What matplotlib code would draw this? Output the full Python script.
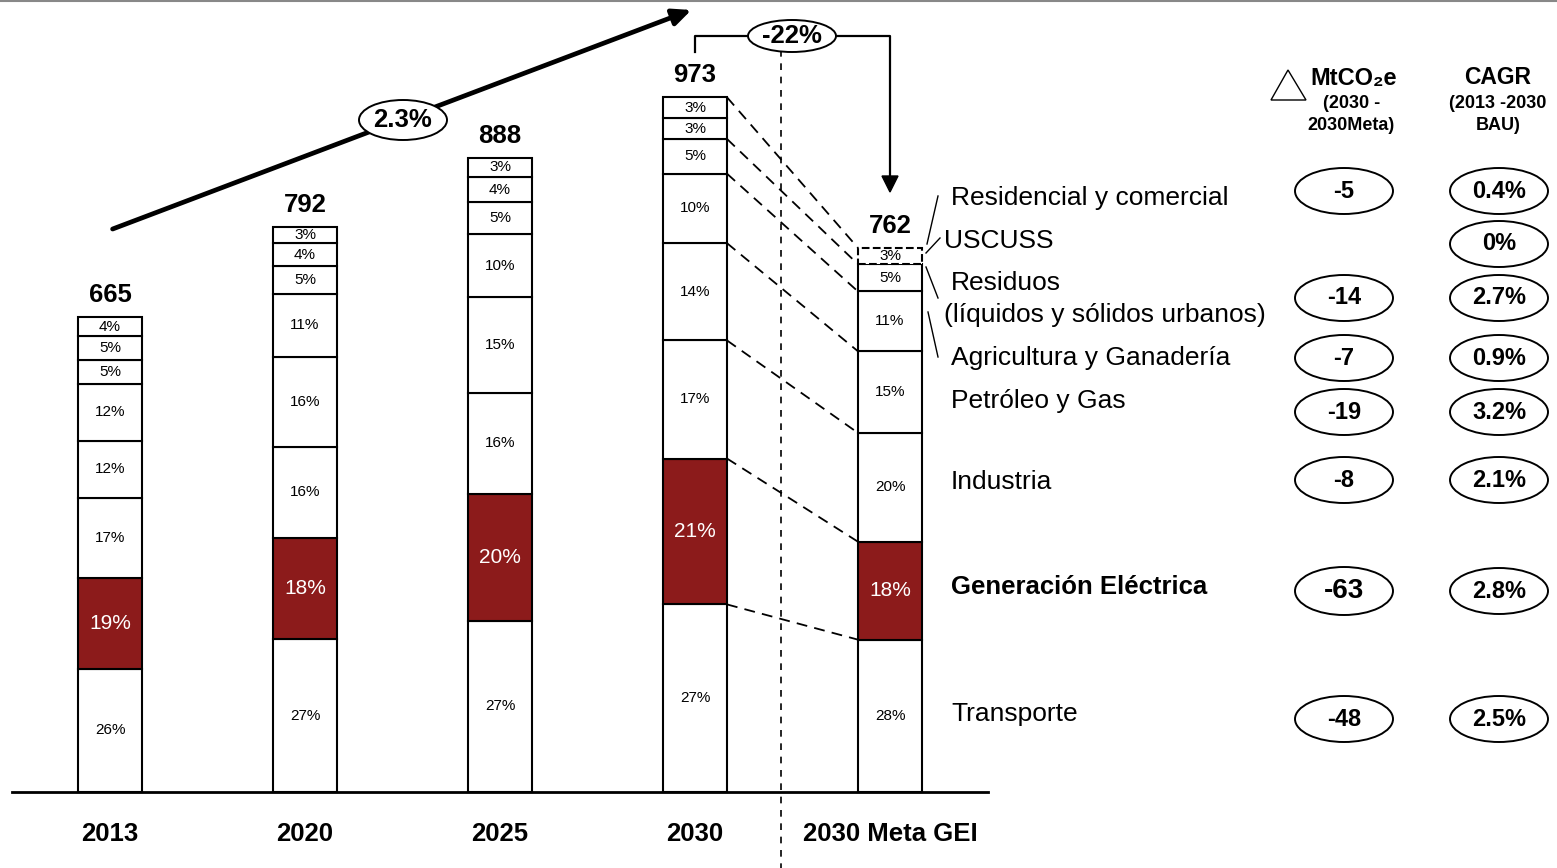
import numpy as np
import matplotlib.pyplot as plt
from matplotlib.patches import Ellipse, Polygon

plt.rcParams['font.family'] = ['Liberation Sans', 'DejaVu Sans']

# ---- data ----
years = ["2013", "2020", "2025", "2030", "2030 Meta GEI"]
totals = [665, 792, 888, 973, 762]
sectors = ["Transporte", "Generación Eléctrica", "Industria", "Petróleo y Gas",
           "Agricultura y Ganadería", "Residuos", "USCUSS", "Residencial y comercial"]
# shares in % from bottom to top
shares = [
    [26, 19, 17, 12, 12, 5, 5, 4],
    [27, 18, 16, 16, 11, 5, 4, 3],
    [27, 20, 16, 15, 10, 5, 4, 3],
    [27, 21, 17, 14, 10, 5, 3, 3],
    [28, 18, 20, 15, 11, 5, 0, 3],
]
delta_mt = ["-5", None, "-14", "-7", "-19", "-8", "-63", "-48"]   # top to bottom
cagr = ["0.4%", "0%", "2.7%", "0.9%", "3.2%", "2.1%", "2.8%", "2.5%"]
growth_label = "2.3%"
meta_label = "-22%"

RED = '#8C1B1B'
W, H = 1557, 868
K = 0.714          # pixels per MtCO2e
STEP = 195         # pixels between bars
X0 = 110           # pixel x of first bar

fig = plt.figure(figsize=(W / 100, H / 100), dpi=100)
ax = fig.add_axes([0, 0, 1, 1])
ax.set_xlim(-X0 / STEP, (W - X0) / STEP)
ax.set_ylim(-(H - 792) / K, 792 / K)
ax.axis('off')


def fp(x, y):
    # pixel position -> figure fraction
    return x / W, 1 - y / H


bw = 64 / STEP
tops = []
for i, (tot, sh) in enumerate(zip(totals, shares)):
    vals = np.array(sh) * tot / 100.0
    bottoms = np.concatenate([[0], np.cumsum(vals)[:-1]])
    tops.append(bottoms + vals)
    for j, (v, b) in enumerate(zip(vals, bottoms)):
        if v == 0:
            continue
        red = (j == 1)
        ls = '--' if (i == 4 and j == 7) else '-'
        ax.bar(i, v, bottom=b, width=bw, color=RED if red else 'white',
               edgecolor='black', linewidth=1.5, linestyle=ls, zorder=3)
        ax.text(i, b + v / 2, f"{sh[j]}%", ha='center', va='center',
                fontsize=15 if red else 11, color='white' if red else 'black',
                zorder=4)
    ax.text(i, tot + 14, str(tot), ha='center', va='bottom', fontsize=18.5,
            fontweight='bold')
    ax.text(i, -59, years[i], ha='center', va='center', fontsize=18.5,
            fontweight='bold')

# connectors between 2030 and Meta
for j in [0, 1, 2, 3, 4, 5, 7]:
    ax.plot([3 + bw / 2, 4 - bw / 2], [tops[3][j], tops[4][j]], color='black',
            linestyle=(0, (6, 4)), linewidth=1.3, zorder=2)

# baseline
ax.plot([(12 - X0) / STEP, (988 - X0) / STEP], [0, 0], color='black', linewidth=2)

# top gray rule
fig.add_artist(plt.Line2D([0, 1], [1 - 1 / H, 1 - 1 / H], color='#888888', linewidth=1.5))

# vertical dashed separator
fig.add_artist(plt.Line2D([781 / W, 781 / W], [fp(0, 50)[1], 0], color='black',
                          linestyle=(0, (4, 4)), linewidth=1.2))

# growth arrow
ax.annotate('', xy=fp(694, 9), xytext=fp(110, 230), xycoords='figure fraction',
            textcoords='figure fraction',
            arrowprops=dict(arrowstyle='-|>,head_length=1.1,head_width=0.5',
                            color='black', lw=3.4))


def ellipse(x, y, w, h, text, size, weight='bold'):
    e = Ellipse(fp(x, y), w / W, h / H, transform=fig.transFigure,
                facecolor='white', edgecolor='black', linewidth=1.4, zorder=10)
    fig.add_artist(e)
    fig.text(*fp(x, y), text, ha='center', va='center', fontsize=size,
             fontweight=weight, zorder=11)


ellipse(403, 120, 88, 40, growth_label, 18.5)

# -22% bracket
fig.add_artist(plt.Line2D([695 / W, 695 / W, 750 / W], [fp(0, 52)[1], fp(0, 36)[1], fp(0, 36)[1]],
                          color='black', linewidth=1.6))
fig.add_artist(plt.Line2D([834 / W, 890 / W, 890 / W], [fp(0, 36)[1], fp(0, 36)[1], fp(0, 178)[1]],
                          color='black', linewidth=1.6))
tri = Polygon([fp(882, 176), fp(898, 176), fp(890, 192)], closed=True,
              transform=fig.transFigure, color='black')
fig.add_artist(tri)
ellipse(792, 36, 88, 32, meta_label, 18.5)

# sector labels
labels = [
    (951, 198, "Residencial y comercial", 'normal'),
    (944, 241, "USCUSS", 'normal'),
    (951, 283, "Residuos", 'normal'),
    (944, 315, "(líquidos y sólidos urbanos)", 'normal'),
    (951, 358, "Agricultura y Ganadería", 'normal'),
    (951, 401, "Petróleo y Gas", 'normal'),
    (951, 482, "Industria", 'normal'),
    (951, 587, "Generación Eléctrica", 'bold'),
    (951, 714, "Transporte", 'normal'),
]
for x, y, t, wgt in labels:
    fig.text(*fp(x, y), t, ha='left', va='center', fontsize=18.5 if wgt == 'bold' else 19,
             fontweight=wgt)

# leader lines
for (x1, y1), (x2, y2) in [((938, 196), (927, 244)), ((926, 253), (940, 238)),
                           ((926, 267), (938, 298)), ((928, 312), (938, 357))]:
    fig.add_artist(plt.Line2D([x1 / W, x2 / W], [fp(0, y1)[1], fp(0, y2)[1]],
                              color='black', linewidth=1.0))

# right columns
row_y = [191, 244, 298, 358, 412, 480, 591, 719]
for y, d, c in zip(row_y, delta_mt, cagr):
    if d is not None:
        big = (d == "-63")
        ellipse(1344, y, 98, 46 if not big else 48, d, 20 if big else 17)
    ellipse(1499, y, 98, 46, c, 17)

# headers
fig.add_artist(Polygon([fp(1271, 100), fp(1306, 100), fp(1288, 70)], closed=True,
                       transform=fig.transFigure, facecolor='white', edgecolor='black',
                       linewidth=1.0))
fig.text(*fp(1354, 78), "MtCO₂e", ha='center', va='center', fontsize=17, fontweight='bold')
fig.text(*fp(1352, 103), "(2030 -", ha='center', va='center', fontsize=13, fontweight='bold')
fig.text(*fp(1351, 126), "2030Meta)", ha='center', va='center', fontsize=13, fontweight='bold')
fig.text(*fp(1498, 77), "CAGR", ha='center', va='center', fontsize=16.5, fontweight='bold')
fig.text(*fp(1498, 103), "(2013 -2030", ha='center', va='center', fontsize=13, fontweight='bold')
fig.text(*fp(1498, 126), "BAU)", ha='center', va='center', fontsize=13, fontweight='bold')

fig.savefig("out.png", dpi=100)
